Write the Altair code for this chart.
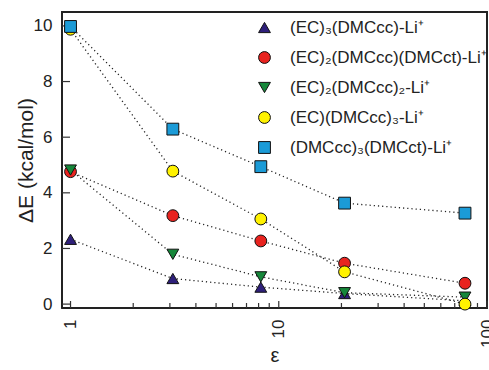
import altair as alt
import pandas as pd

eps = [1, 3.1, 8.2, 20.7, 78.4]
series = [
    "(EC)₃(DMCcc)-Li⁺",
    "(EC)₂(DMCcc)(DMCct)-Li⁺",
    "(EC)₂(DMCcc)₂-Li⁺",
    "(EC)(DMCcc)₃-Li⁺",
    "(DMCcc)₃(DMCct)-Li⁺",
]
values = [
    [2.33, 0.92, 0.61, 0.38, 0.12],
    [4.76, 3.18, 2.27, 1.47, 0.75],
    [4.82, 1.79, 0.98, 0.41, 0.25],
    [9.88, 4.78, 3.06, 1.16, 0.0],
    [9.98, 6.29, 4.94, 3.63, 3.27],
]
colors = ["#2e1f7a", "#e8231f", "#16873a", "#fff200", "#1b9bd7"]
shapes = ["triangle-up", "circle", "triangle-down", "circle", "square"]

x_ticks_major = [1, 10, 100]
x_ticks_minor = [2, 3, 4, 5, 6, 7, 8, 9, 20, 30, 40, 50, 60, 70, 80, 90]
y_ticks = [0, 2, 4, 6, 8, 10]

x_domain = [0.91, 100]
y_domain = [-0.14, 10.5]

rows = []
for s, vals in zip(series, values):
    for e, v in zip(eps, vals):
        rows.append({"series": s, "eps": e, "dE": v})
df = pd.DataFrame(rows)

W, H = 425, 296
xscale = alt.Scale(type="log", domain=x_domain, nice=False)
yscale = alt.Scale(domain=y_domain, nice=False, zero=False)

xaxis = alt.Axis(values=x_ticks_major, ticks=False, domain=False, grid=False,
                 labelAngle=270, labelFontSize=17, labelPadding=11,
                 labelFlush=False, title="ε", titleFontSize=20,
                 titleFontWeight="normal", titleY=47, titleBaseline="middle",
                 labelColor="#222", titleColor="#222")
yaxis = alt.Axis(values=y_ticks, ticks=False, domain=False, grid=False,
                 labelFontSize=17, labelPadding=10,
                 title="ΔE (kcal/mol)", titleFontSize=21,
                 titleFontWeight="normal", titleX=-36, titleBaseline="middle",
                 labelColor="#222", titleColor="#222")

base = alt.Chart(df)

lines = base.mark_line(
    strokeDash=[1.2, 3], strokeWidth=1.3, color="#222222"
).encode(
    x=alt.X("eps:Q", scale=xscale, axis=xaxis),
    y=alt.Y("dE:Q", scale=yscale, axis=yaxis),
    detail="series:N",
)

points = base.mark_point(filled=True, stroke="#111111", strokeWidth=1, opacity=1, size=140).encode(
    x=alt.X("eps:Q", scale=xscale, axis=xaxis),
    y=alt.Y("dE:Q", scale=yscale, axis=yaxis),
    fill=alt.Fill("series:N", scale=alt.Scale(domain=series, range=colors), sort=None,
                  legend=alt.Legend(title=None, orient="none", legendX=194, legendY=7,
                                    labelFontSize=17, labelOffset=17, rowPadding=12,
                                    symbolStrokeColor="#111", symbolStrokeWidth=1,
                                    symbolSize=140, labelColor="#222",
                                    labelLimit=300)),
    shape=alt.Shape("series:N", scale=alt.Scale(domain=series, range=shapes), sort=None),
)

xt_major = alt.Chart(pd.DataFrame({"eps": x_ticks_major})).mark_rule(color="#333", strokeWidth=1.2).encode(
    x=alt.X("eps:Q", scale=xscale, axis=xaxis),
    y=alt.value(H), y2=alt.value(H - 7),
)
xt_minor = alt.Chart(pd.DataFrame({"eps": x_ticks_minor})).mark_rule(color="#333", strokeWidth=1.2).encode(
    x=alt.X("eps:Q", scale=xscale, axis=xaxis),
    y=alt.value(H), y2=alt.value(H - 5),
)
yt = alt.Chart(pd.DataFrame({"dE": y_ticks})).mark_rule(color="#333", strokeWidth=1.2).encode(
    y=alt.Y("dE:Q", scale=yscale, axis=yaxis),
    x=alt.value(0), x2=alt.value(8),
)

# plot frame: a closed path through the four corners of the scale domains
frame_df = pd.DataFrame({
    "eps": [x_domain[0], x_domain[1], x_domain[1], x_domain[0], x_domain[0]],
    "dE": [y_domain[0], y_domain[0], y_domain[1], y_domain[1], y_domain[0]],
    "o": [0, 1, 2, 3, 4],
})
frame = alt.Chart(frame_df).mark_line(color="#222222", strokeWidth=1.8).encode(
    x=alt.X("eps:Q", scale=xscale, axis=xaxis),
    y=alt.Y("dE:Q", scale=yscale, axis=yaxis),
    order=alt.Order("o:Q"),
)

chart = alt.layer(frame, lines, xt_major, xt_minor, yt, points).properties(
    width=W, height=H,
    autosize=alt.AutoSizeParams(type="none"),
    padding={"left": 62, "top": 12, "right": 2, "bottom": 62},
).configure(
    font="Liberation Sans", background="white"
).configure_view(stroke="#222222", strokeWidth=1.8)

chart.save("out.html", embed_options={"renderer": "svg", "actions": False})
